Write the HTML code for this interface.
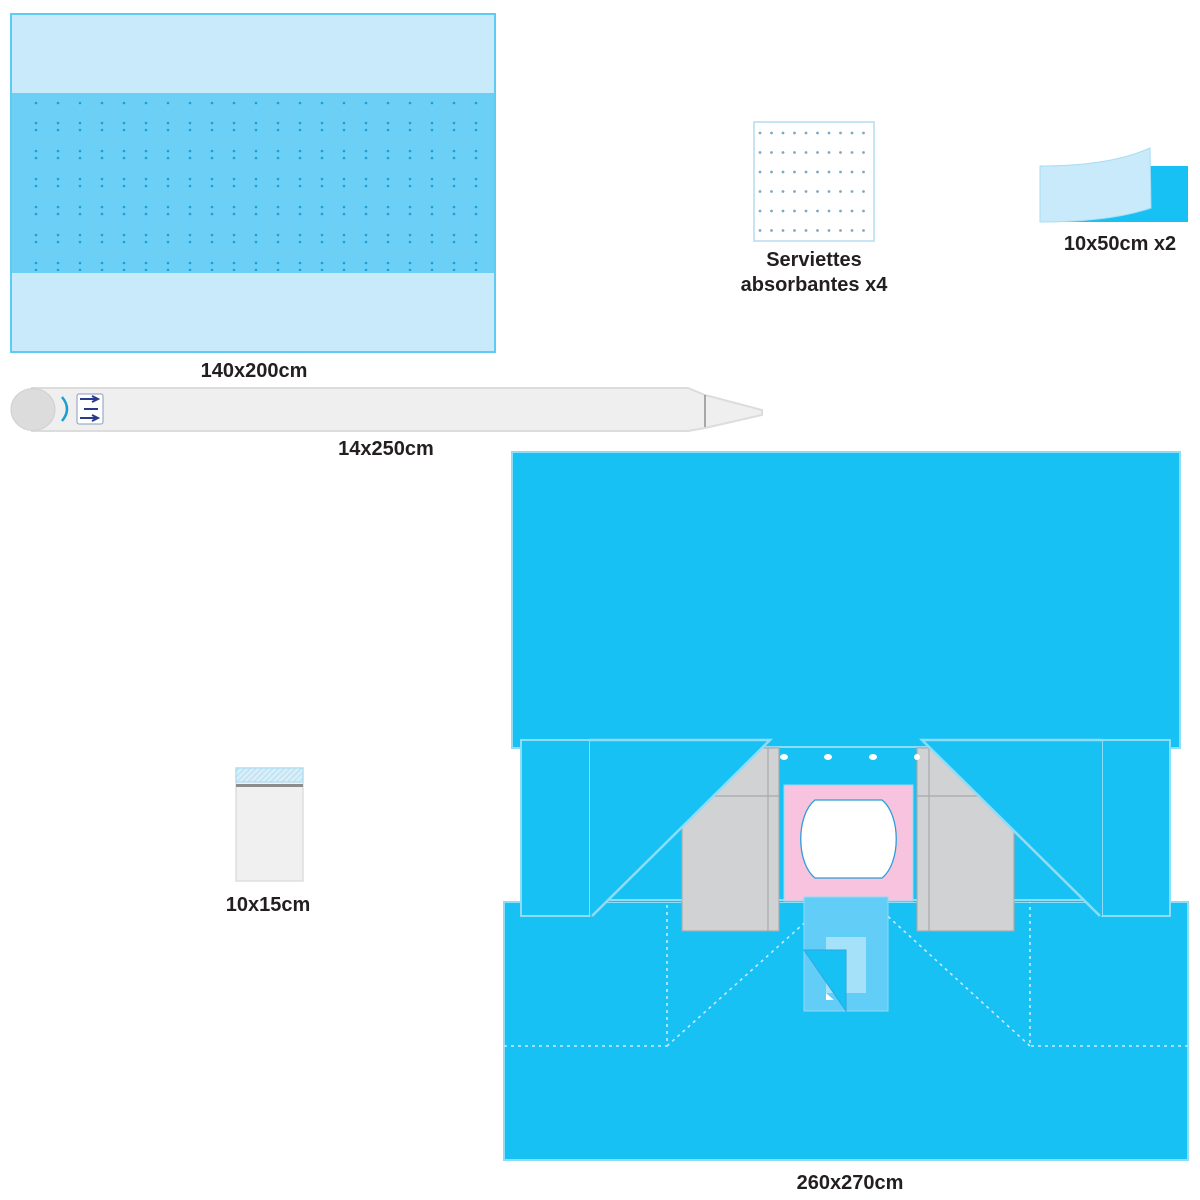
<!DOCTYPE html>
<html><head><meta charset="utf-8"><style>
html,body{margin:0;padding:0;background:#fff}
svg{display:block}
text{font-family:"Liberation Sans",sans-serif;font-weight:bold;fill:#231f20;font-size:20px;text-anchor:middle}
</style></head><body>
<svg width="1200" height="1200" viewBox="0 0 1200 1200" xmlns="http://www.w3.org/2000/svg">
<defs>
<pattern id="dp" x="34" y="121" width="22" height="28" patternUnits="userSpaceOnUse">
<circle cx="2" cy="2" r="1.3" fill="#1a9fd8"/><circle cx="2" cy="9" r="1.3" fill="#1a9fd8"/>
</pattern>
<pattern id="dp1" x="34" y="101" width="22" height="10" patternUnits="userSpaceOnUse">
<circle cx="2" cy="2" r="1.3" fill="#1a9fd8"/>
</pattern>
<pattern id="sp" x="758" y="131" width="11.5" height="19.5" patternUnits="userSpaceOnUse">
<circle cx="2" cy="2" r="1.4" fill="#7fa9c2"/>
</pattern>
<pattern id="hatch" width="4" height="4" patternUnits="userSpaceOnUse" patternTransform="rotate(45)">
<rect width="4" height="4" fill="#d8eef8"/><line x1="0" y1="0" x2="0" y2="4" stroke="#9fd3ea" stroke-width="1.2"/>
</pattern>
</defs>

<!-- 140x200 drape -->
<rect x="11" y="14" width="484" height="338" fill="#c8eafb" stroke="#5ecbf2" stroke-width="2"/>
<rect x="12" y="93" width="482" height="180" fill="#6ccff6"/>
<rect x="32" y="101" width="450" height="5" fill="url(#dp1)"/>
<rect x="32" y="121" width="450" height="150" fill="url(#dp)"/>
<text x="254" y="377">140x200cm</text>

<!-- tube -->
<path d="M32 388 L688 388 L705 395 L762 410 L762 415 L705 428 L688 431 L32 431 Z" fill="#efefef" stroke="#dcdcdc" stroke-width="2"/>
<ellipse cx="33" cy="409.5" rx="22" ry="21" fill="#dcdcdd" stroke="#d0d0d0"/>
<line x1="705" y1="395" x2="705" y2="427" stroke="#777" stroke-width="1.2"/>
<path d="M62 397 Q72 409 62 421" fill="none" stroke="#1aa0d0" stroke-width="2.5"/>
<rect x="77" y="394" width="26" height="30" rx="2" fill="#fff" stroke="#8a9bc0"/>
<path d="M80 399 H96 M92 396 L98 399 L92 402" stroke="#273a8c" stroke-width="2" fill="none"/>
<path d="M84 409 H98" stroke="#273a8c" stroke-width="2"/>
<path d="M80 418 H96 M92 415 L98 418 L92 421" stroke="#273a8c" stroke-width="2" fill="none"/>
<text x="386" y="455">14x250cm</text>

<!-- serviettes -->
<rect x="754" y="122" width="120" height="119" fill="#fff" stroke="#b4dcee" stroke-width="1.5"/>
<rect x="756" y="128" width="116" height="110" fill="url(#sp)"/>
<text x="814" y="266">Serviettes</text>
<text x="814" y="291">absorbantes x4</text>

<!-- 10x50 strip -->
<rect x="1040" y="166" width="148" height="56" fill="#18c1f3"/>
<path d="M1040 166 Q1110 166 1150 148 L1151 208 Q1110 222 1040 222 Z" fill="#c8eafb" stroke="#a8dcf3"/>
<text x="1120" y="250">10x50cm x2</text>

<!-- 10x15 bag -->
<rect x="236" y="768" width="67" height="113" fill="#f0f0f0" stroke="#dedede" stroke-width="1.5"/>
<rect x="236" y="768" width="67" height="14" fill="url(#hatch)" stroke="#a8d8ee"/>
<rect x="236" y="784" width="67" height="3" fill="#8c8c8c"/>
<text x="268" y="911">10x15cm</text>

<!-- big drape -->
<rect x="504" y="902" width="684" height="258" fill="#18c1f3" stroke="#8fdcf7" stroke-width="2"/>
<rect x="512" y="452" width="668" height="296" fill="#18c1f3" stroke="#8fdcf7" stroke-width="2"/>
<rect x="521" y="746" width="649" height="156" fill="#18c1f3"/>
<line x1="700" y1="747" x2="1000" y2="747" stroke="#8fdcf7" stroke-width="2"/>
<!-- dotted lines -->
<g stroke="#c6ecfb" stroke-width="1.6" stroke-dasharray="3 4" fill="none">
<path d="M504 1046 H667 V902"/>
<path d="M667 1046 L830 900"/>
<path d="M1188 1046 H1030 V902"/>
<path d="M1030 1046 L870 900"/>
</g>
<!-- wings -->
<rect x="521" y="740" width="69" height="176" fill="#18c1f3" stroke="#8fdcf7" stroke-width="2"/>
<rect x="1102" y="740" width="68" height="176" fill="#18c1f3" stroke="#8fdcf7" stroke-width="2"/>
<!-- gray pieces -->
<rect x="682" y="748" width="97" height="183" fill="#d1d2d4" stroke="#a8a9ab" stroke-width="1.2"/>
<line x1="768" y1="748" x2="768" y2="931" stroke="#a8a9ab" stroke-width="1.2"/>
<line x1="682" y1="796" x2="779" y2="796" stroke="#a8a9ab" stroke-width="1.2"/>
<rect x="917" y="748" width="97" height="183" fill="#d1d2d4" stroke="#a8a9ab" stroke-width="1.2"/>
<line x1="929" y1="748" x2="929" y2="931" stroke="#a8a9ab" stroke-width="1.2"/>
<line x1="917" y1="796" x2="1014" y2="796" stroke="#a8a9ab" stroke-width="1.2"/>
<!-- triangles -->
<path d="M590 740 L770 740 L592 916 L590 916 Z" fill="#18c1f3"/>
<path d="M590 740 L770 740 L592 916" fill="none" stroke="#8fdcf7" stroke-width="2.5"/>
<path d="M1102 740 L922 740 L1100 916 L1102 916 Z" fill="#18c1f3"/>
<path d="M1102 740 L922 740 L1100 916" fill="none" stroke="#8fdcf7" stroke-width="2.5"/>
<line x1="608" y1="900" x2="682" y2="900" stroke="#8fdcf7" stroke-width="2"/>
<line x1="1014" y1="900" x2="1085" y2="900" stroke="#8fdcf7" stroke-width="2"/>
<line x1="779" y1="900" x2="917" y2="900" stroke="#8fdcf7" stroke-width="2"/>
<!-- holes -->
<g fill="#fff"><ellipse cx="784" cy="757" rx="4" ry="3"/><ellipse cx="828" cy="757" rx="4" ry="3"/><ellipse cx="873" cy="757" rx="4" ry="3"/><ellipse cx="917" cy="757" rx="3" ry="3"/></g>
<!-- pink -->
<rect x="784" y="785" width="129" height="116" fill="#f7c3de" stroke="#8fdcf7" stroke-width="1"/>
<path d="M815 800 H882 C901 815 901 863 882 878 H815 C796 863 796 815 815 800 Z" fill="#fff" stroke="#2a9fd8" stroke-width="1.3"/>
<!-- flap -->
<rect x="804" y="897" width="84" height="114" fill="#62cdf6" stroke="#8fdcf7" stroke-width="1"/>
<rect x="826" y="937" width="40" height="56" fill="#a6e1fa"/>
<path d="M826 993 L826 1000 L834 1000 Z" fill="#fff"/>
<rect x="835" y="950" width="11" height="60" fill="#62cdf6"/>
<path d="M804 950 L846 950 L846 1011 Z" fill="#18c1f3" stroke="#2aa8e0" stroke-width="1"/>
<text x="850" y="1189">260x270cm</text>
</svg>
</body></html>
